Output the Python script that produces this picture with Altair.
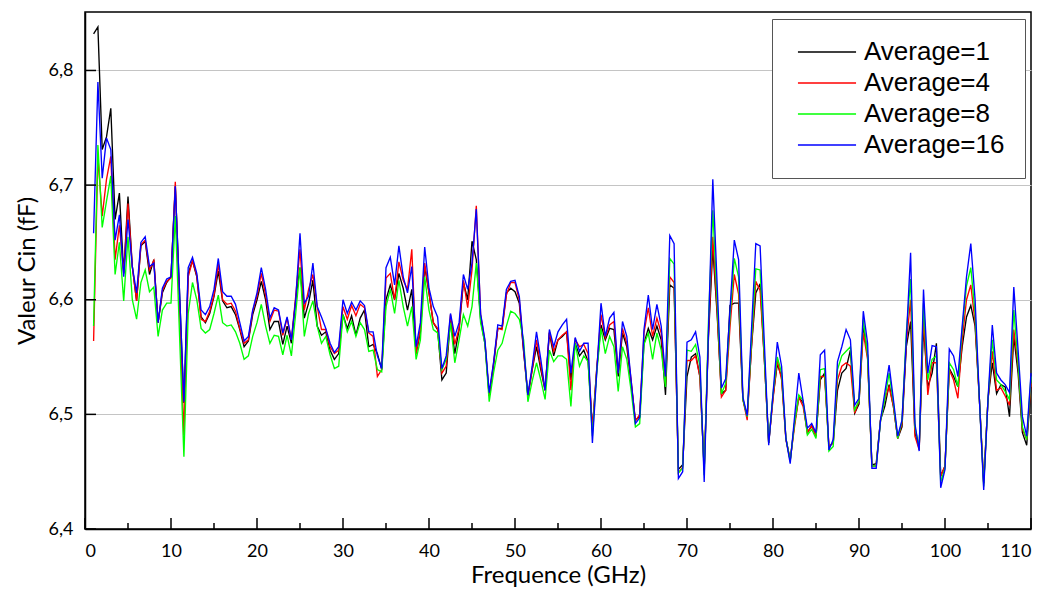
import altair as alt
import pandas as pd

series_names = ["Average=1", "Average=4", "Average=8", "Average=16"]
series_colors = ["#000000", "#ff0000", "#00ff00", "#0000ff"]

freq_start = 1.0
freq_step = 0.5

avg1 = [
    6.832, 6.838, 6.731, 6.742, 6.767, 6.670, 6.693, 6.623, 6.690, 6.629,
    6.599, 6.647, 6.651, 6.622, 6.635, 6.580, 6.606, 6.615, 6.620, 6.699,
    6.605, 6.510, 6.623, 6.634, 6.620, 6.585, 6.580, 6.588, 6.603, 6.625,
    6.599, 6.593, 6.594, 6.587, 6.574, 6.559, 6.564, 6.587, 6.600, 6.616,
    6.600, 6.574, 6.581, 6.581, 6.561, 6.577, 6.562, 6.600, 6.628, 6.584,
    6.597, 6.617, 6.577, 6.569, 6.572, 6.556, 6.548, 6.553, 6.587, 6.575,
    6.586, 6.569, 6.584, 6.591, 6.559, 6.561, 6.553, 6.539, 6.600, 6.613,
    6.600, 6.623, 6.610, 6.591, 6.609, 6.553, 6.572, 6.629, 6.606, 6.580,
    6.574, 6.530, 6.536, 6.583, 6.553, 6.574, 6.615, 6.600, 6.651, 6.635,
    6.583, 6.562, 6.516, 6.542, 6.575, 6.575, 6.606, 6.610, 6.607, 6.597,
    6.555, 6.516, 6.539, 6.559, 6.539, 6.521, 6.571, 6.551, 6.565, 6.568,
    6.572, 6.530, 6.562, 6.551, 6.556, 6.546, 6.487, 6.539, 6.578, 6.565,
    6.575, 6.574, 6.533, 6.571, 6.559, 6.527, 6.495, 6.498, 6.562, 6.575,
    6.565, 6.577, 6.565, 6.517, 6.613, 6.610, 6.452, 6.456, 6.533, 6.550,
    6.553, 6.533, 6.452, 6.568, 6.645, 6.588, 6.518, 6.521, 6.595, 6.597,
    6.597, 6.513, 6.498, 6.559, 6.606, 6.614, 6.547, 6.475, 6.515, 6.544,
    6.533, 6.479, 6.460, 6.492, 6.515, 6.510, 6.484, 6.490, 6.481, 6.530,
    6.536, 6.472, 6.475, 6.521, 6.536, 6.540, 6.556, 6.501, 6.509, 6.578,
    6.551, 6.456, 6.457, 6.495, 6.507, 6.526, 6.507, 6.479, 6.489, 6.559,
    6.581, 6.484, 6.471, 6.577, 6.524, 6.536, 6.562, 6.446, 6.455, 6.540,
    6.533, 6.524, 6.559, 6.585, 6.595, 6.577, 6.513, 6.440, 6.513, 6.545,
    6.518, 6.526, 6.524, 6.498, 6.568, 6.536, 6.484, 6.473, 6.524,
]

avg4 = [
    6.564, 6.725, 6.673, 6.705, 6.725, 6.635, 6.665, 6.623, 6.684, 6.629,
    6.599, 6.648, 6.652, 6.626, 6.634, 6.580, 6.608, 6.616, 6.619, 6.703,
    6.592, 6.482, 6.620, 6.634, 6.621, 6.583, 6.581, 6.590, 6.604, 6.631,
    6.600, 6.596, 6.597, 6.590, 6.575, 6.562, 6.565, 6.590, 6.603, 6.623,
    6.604, 6.581, 6.591, 6.590, 6.569, 6.584, 6.565, 6.603, 6.644, 6.591,
    6.609, 6.622, 6.594, 6.574, 6.574, 6.559, 6.553, 6.556, 6.594, 6.583,
    6.595, 6.586, 6.596, 6.593, 6.571, 6.568, 6.533, 6.539, 6.619, 6.623,
    6.600, 6.633, 6.617, 6.609, 6.644, 6.553, 6.575, 6.632, 6.606, 6.580,
    6.575, 6.536, 6.542, 6.587, 6.561, 6.575, 6.617, 6.593, 6.626, 6.682,
    6.587, 6.564, 6.516, 6.544, 6.575, 6.574, 6.604, 6.615, 6.615, 6.600,
    6.556, 6.516, 6.539, 6.565, 6.542, 6.521, 6.572, 6.555, 6.565, 6.569,
    6.572, 6.521, 6.565, 6.559, 6.561, 6.553, 6.487, 6.539, 6.587, 6.567,
    6.578, 6.581, 6.536, 6.575, 6.562, 6.530, 6.494, 6.500, 6.571, 6.593,
    6.568, 6.584, 6.571, 6.526, 6.620, 6.615, 6.449, 6.454, 6.547, 6.547,
    6.551, 6.533, 6.452, 6.571, 6.655, 6.591, 6.515, 6.521, 6.576, 6.622,
    6.605, 6.513, 6.495, 6.559, 6.616, 6.608, 6.547, 6.475, 6.513, 6.547,
    6.530, 6.478, 6.460, 6.489, 6.515, 6.507, 6.484, 6.490, 6.481, 6.533,
    6.533, 6.472, 6.475, 6.530, 6.542, 6.545, 6.542, 6.501, 6.512, 6.571,
    6.548, 6.455, 6.455, 6.495, 6.513, 6.524, 6.507, 6.479, 6.492, 6.562,
    6.600, 6.481, 6.469, 6.585, 6.517, 6.545, 6.545, 6.446, 6.455, 6.539,
    6.530, 6.514, 6.565, 6.600, 6.613, 6.580, 6.513, 6.440, 6.513, 6.555,
    6.521, 6.523, 6.516, 6.508, 6.574, 6.542, 6.487, 6.478, 6.527,
]

avg8 = [
    6.577, 6.735, 6.663, 6.686, 6.708, 6.622, 6.650, 6.599, 6.655, 6.600,
    6.583, 6.615, 6.626, 6.607, 6.611, 6.568, 6.591, 6.597, 6.597, 6.673,
    6.568, 6.463, 6.588, 6.615, 6.600, 6.575, 6.571, 6.574, 6.588, 6.604,
    6.580, 6.577, 6.578, 6.572, 6.562, 6.548, 6.551, 6.568, 6.580, 6.596,
    6.577, 6.562, 6.569, 6.568, 6.552, 6.569, 6.551, 6.588, 6.628, 6.568,
    6.588, 6.599, 6.577, 6.562, 6.568, 6.552, 6.540, 6.542, 6.587, 6.572,
    6.581, 6.568, 6.580, 6.574, 6.555, 6.556, 6.539, 6.537, 6.594, 6.609,
    6.588, 6.617, 6.594, 6.577, 6.594, 6.548, 6.565, 6.620, 6.591, 6.574,
    6.571, 6.539, 6.548, 6.580, 6.545, 6.565, 6.587, 6.577, 6.594, 6.632,
    6.580, 6.562, 6.511, 6.536, 6.556, 6.562, 6.577, 6.590, 6.588, 6.583,
    6.565, 6.511, 6.529, 6.545, 6.530, 6.513, 6.556, 6.546, 6.551, 6.551,
    6.548, 6.507, 6.562, 6.542, 6.551, 6.546, 6.481, 6.536, 6.575, 6.553,
    6.568, 6.559, 6.520, 6.559, 6.548, 6.521, 6.489, 6.492, 6.561, 6.571,
    6.548, 6.571, 6.556, 6.524, 6.636, 6.631, 6.449, 6.453, 6.556, 6.555,
    6.561, 6.542, 6.447, 6.582, 6.678, 6.600, 6.518, 6.527, 6.585, 6.636,
    6.620, 6.513, 6.498, 6.565, 6.627, 6.626, 6.550, 6.475, 6.518, 6.550,
    6.536, 6.479, 6.459, 6.492, 6.517, 6.512, 6.482, 6.487, 6.479, 6.539,
    6.540, 6.468, 6.472, 6.539, 6.551, 6.555, 6.559, 6.504, 6.512, 6.583,
    6.551, 6.455, 6.455, 6.494, 6.513, 6.536, 6.510, 6.479, 6.494, 6.571,
    6.618, 6.489, 6.471, 6.597, 6.530, 6.548, 6.551, 6.441, 6.453, 6.545,
    6.539, 6.524, 6.574, 6.612, 6.628, 6.588, 6.513, 6.437, 6.513, 6.565,
    6.530, 6.526, 6.520, 6.513, 6.591, 6.545, 6.489, 6.478, 6.533,
]

avg16 = [
    6.658, 6.790, 6.706, 6.741, 6.731, 6.652, 6.674, 6.620, 6.670, 6.629,
    6.606, 6.650, 6.655, 6.629, 6.632, 6.580, 6.610, 6.618, 6.620, 6.699,
    6.605, 6.511, 6.628, 6.637, 6.623, 6.591, 6.587, 6.594, 6.609, 6.636,
    6.607, 6.603, 6.603, 6.596, 6.580, 6.564, 6.568, 6.591, 6.606, 6.628,
    6.609, 6.584, 6.593, 6.591, 6.571, 6.585, 6.565, 6.600, 6.658, 6.597,
    6.603, 6.632, 6.594, 6.585, 6.575, 6.562, 6.554, 6.559, 6.600, 6.588,
    6.598, 6.591, 6.599, 6.595, 6.572, 6.572, 6.551, 6.540, 6.628, 6.637,
    6.613, 6.647, 6.620, 6.606, 6.629, 6.559, 6.580, 6.646, 6.610, 6.594,
    6.585, 6.540, 6.551, 6.588, 6.568, 6.580, 6.622, 6.609, 6.632, 6.679,
    6.588, 6.565, 6.519, 6.545, 6.578, 6.577, 6.609, 6.616, 6.617, 6.603,
    6.559, 6.517, 6.542, 6.572, 6.548, 6.521, 6.574, 6.559, 6.572, 6.578,
    6.583, 6.536, 6.567, 6.555, 6.562, 6.562, 6.475, 6.536, 6.597, 6.568,
    6.584, 6.589, 6.536, 6.581, 6.568, 6.530, 6.492, 6.497, 6.574, 6.604,
    6.574, 6.596, 6.577, 6.533, 6.656, 6.649, 6.444, 6.450, 6.563, 6.565,
    6.572, 6.550, 6.441, 6.574, 6.705, 6.614, 6.523, 6.531, 6.591, 6.652,
    6.635, 6.515, 6.499, 6.574, 6.649, 6.647, 6.561, 6.473, 6.518, 6.563,
    6.542, 6.479, 6.457, 6.497, 6.536, 6.512, 6.488, 6.492, 6.484, 6.552,
    6.556, 6.469, 6.478, 6.546, 6.559, 6.574, 6.565, 6.508, 6.514, 6.590,
    6.562, 6.453, 6.453, 6.495, 6.519, 6.543, 6.513, 6.481, 6.495, 6.565,
    6.641, 6.492, 6.468, 6.609, 6.536, 6.560, 6.559, 6.436, 6.452, 6.557,
    6.551, 6.533, 6.577, 6.620, 6.649, 6.600, 6.513, 6.434, 6.513, 6.578,
    6.536, 6.530, 6.526, 6.519, 6.611, 6.556, 6.498, 6.481, 6.536,
]

x_major = [0, 10, 20, 30, 40, 50, 60, 70, 80, 90, 100, 110]
x_minor = [5, 15, 25, 35, 45, 55, 65, 75, 85, 95, 105]
y_ticks = [6.4, 6.5, 6.6, 6.7, 6.8]

rows = []
for name, vals in zip(series_names, [avg1, avg4, avg8, avg16]):
    for i, v in enumerate(vals):
        rows.append({"freq": freq_start + freq_step * i, "value": v, "series": name})
df = pd.DataFrame(rows)

W, H = 946, 517
xs = alt.Scale(domain=[0, 110], nice=False, zero=False)
ys = alt.Scale(domain=[6.4, 6.851], nice=False, zero=False)

x_axis = alt.Axis(values=x_major, title="Frequence (GHz)", grid=False, ticks=False,
                  labelPadding=13, labelFontSize=18, titleFontSize=24, titlePadding=3,
                  format="d")
y_axis = alt.Axis(values=y_ticks, title="Valeur Cin (fF)", grid=True, gridColor="#c4c4c4",
                  gridWidth=1, ticks=False, labelPadding=12, labelFontSize=18,
                  titleFontSize=24, titlePadding=9,
                  labelExpr="replace(format(datum.value, '.1f'), '.', ',')")

# long horizontal stroke as legend symbol
legend_line = "M-5,0H5"
color = alt.Color(
    "series:N",
    scale=alt.Scale(domain=series_names, range=series_colors),
    legend=alt.Legend(title=None, orient="none", legendX=687, legendY=7,
                      symbolType=legend_line, symbolSize=135, symbolStrokeWidth=1.5,
                      symbolOffset=22, labelOffset=24,
                      labelFont="Liberation Sans", labelFontSize=26, labelColor="black",
                      strokeColor="#555555", fillColor="white", padding=20,
                      rowPadding=5, labelLimit=400),
)

layers = []
for name in series_names:
    layers.append(
        alt.Chart(df).transform_filter(alt.datum.series == name)
        .mark_line(strokeWidth=1.35)
        .encode(x=alt.X("freq:Q", scale=xs, axis=x_axis),
                y=alt.Y("value:Q", scale=ys, axis=y_axis),
                color=color)
    )

xmaj = alt.Chart(pd.DataFrame({"t": x_major})).mark_tick(
    color="black", thickness=1.5, size=11, orient="vertical", opacity=1).encode(
    x=alt.X("t:Q", scale=xs, axis=x_axis), y=alt.value(H - 5.5))
xmin = alt.Chart(pd.DataFrame({"t": x_minor})).mark_tick(
    color="black", thickness=1.5, size=6, orient="vertical", opacity=1).encode(
    x=alt.X("t:Q", scale=xs, axis=x_axis), y=alt.value(H - 3))
ymaj = alt.Chart(pd.DataFrame({"t": y_ticks})).mark_tick(
    color="black", thickness=1.5, size=11, orient="horizontal", opacity=1).encode(
    y=alt.Y("t:Q", scale=ys, axis=y_axis), x=alt.value(5.5))

chart = alt.layer(*layers, xmaj, xmin, ymaj).properties(
    width=W, height=H,
    padding={"left": 77, "top": 4, "right": 12, "bottom": 60},
    autosize=alt.AutoSizeParams(type="none"),
).configure_view(stroke="black", strokeWidth=1.5).configure_axis(
    domainColor="black", domainWidth=1.5, labelColor="black", titleColor="black",
    labelFont="Lato", titleFont="Lato", titleFontWeight="normal",
)

chart.save("out.html", embed_options={"renderer": "svg", "actions": False})
